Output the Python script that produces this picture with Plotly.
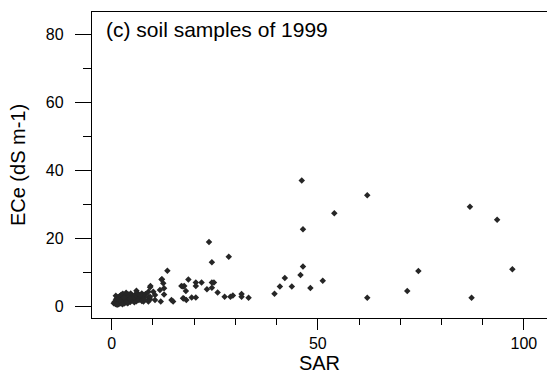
import plotly.graph_objects as go

# SAR values (x) and ECe values (y)
sar = [
    # dense cluster near origin
    0.5, 0.7, 0.9, 1.0, 1.1, 1.2, 1.3, 1.4, 1.5, 1.6, 1.7, 1.8, 1.9, 2.0, 2.1, 2.2,
    2.3, 2.4, 2.5, 2.6, 2.7, 2.8, 2.9, 3.0, 3.1, 3.2, 3.3, 3.4, 3.5, 3.6, 3.8, 3.9,
    4.0, 4.2, 4.3, 4.5, 4.6, 4.8, 5.0, 5.1, 5.3, 5.5, 5.7, 5.9, 6.0, 6.2, 6.4, 6.6,
    6.9, 7.1, 7.3, 7.7, 7.9, 8.2, 8.9, 9.3, 1.0, 1.5, 2.2, 3.0, 3.7, 4.4, 1.3, 2.6,
    # spread points
    9.4, 8.9, 10.1, 10.5, 9.3, 7.7, 8.9, 10.5, 11.9, 14.5, 14.9, 16.9, 17.6, 17.3,
    18.1, 7.3, 7.7, 6.0, 6.9, 7.9, 9.3, 12.1, 13.5, 12.2, 12.5, 12.7, 11.7, 12.7,
    18.6, 17.3, 18.0, 17.5, 19.4, 20.4, 20.4, 20.4, 21.8, 23.1, 24.3, 24.8, 24.3,
    25.7, 27.4, 28.8, 29.4, 31.5, 31.5, 33.2, 23.6, 24.3, 28.4,
    46.1, 54.0, 46.4, 46.4, 45.8, 42.0, 40.8, 43.7, 48.2, 51.2, 39.5,
    62.0, 86.9, 93.5, 74.4, 97.2, 71.7, 62.0, 87.3,
]
ece = [
    0.8, 1.2, 0.6, 1.8, 1.0, 2.2, 0.7, 1.5, 2.6, 1.1, 0.5, 1.9, 2.9, 1.3, 0.8, 2.4,
    3.3, 1.6, 0.9, 2.0, 3.6, 1.2, 2.7, 0.7, 1.8, 3.1, 2.3, 1.0, 3.9, 1.5, 2.6, 0.8,
    3.4, 1.9, 2.8, 1.2, 3.7, 2.2, 1.6, 3.0, 2.5, 1.1, 3.4, 2.0, 1.4, 2.9, 3.6, 1.8,
    2.4, 3.2, 1.5, 2.7, 2.0, 3.5, 2.6, 2.0, 3.0, 2.0, 1.1, 2.5, 1.0, 2.1, 0.4, 0.5,
    5.9, 4.2, 4.2, 3.2, 2.7, 1.3, 1.3, 1.8, 1.3, 1.8, 1.3, 5.9, 5.9, 2.3,
    1.8, 3.7, 3.2, 4.5, 3.2, 1.8, 5.5, 7.8, 10.4, 7.9, 6.7, 5.2, 4.7, 3.4,
    7.8, 5.7, 4.4, 2.2, 2.5, 2.5, 6.9, 5.9, 6.9, 4.9, 6.9, 6.9, 5.4,
    4.0, 2.7, 2.7, 3.1, 3.5, 2.7, 2.4, 18.8, 12.9, 14.5,
    36.9, 27.3, 22.6, 11.6, 9.1, 8.2, 5.7, 5.7, 5.3, 7.4, 3.6,
    32.6, 29.2, 25.4, 10.3, 10.8, 4.4, 2.4, 2.4,
]

x_tickvals = [0, 50, 100]
y_tickvals = [0, 20, 40, 60, 80]

FAM = "Liberation Sans, Arial, sans-serif"

fig = go.Figure()
fig.add_trace(go.Scatter(
    x=sar, y=ece, mode="markers",
    marker=dict(symbol="diamond", size=5, color="#262626", line=dict(width=0)),
    showlegend=False,
))

tick_font = dict(family=FAM, size=16, color="#000")

fig.update_layout(
    width=547, height=380,
    margin=dict(l=92, r=0, t=12, b=62),
    paper_bgcolor="white", plot_bgcolor="white",
    font=tick_font,
    xaxis=dict(
        range=[-4.78, 105.6], tickvals=x_tickvals, ticks="outside", ticklen=11,
        tickwidth=1.3, tickcolor="#000", showline=True, linecolor="#000",
        linewidth=1.3, mirror=True, showgrid=False, zeroline=False,
        minor=dict(dtick=10, tick0=0, ticks="outside", ticklen=6, tickwidth=1.1,
                   tickcolor="#000", showgrid=False),
        tickfont=tick_font,
        title=dict(text="SAR", font=dict(family=FAM, size=20, color="#000"), standoff=2),
    ),
    yaxis=dict(
        range=[-3.53, 86.47], tickvals=y_tickvals, ticks="outside", ticklen=16,
        tickwidth=1.3, tickcolor="#000", showline=True, linecolor="#000",
        linewidth=1.3, mirror=False, showgrid=False, zeroline=False,
        minor=dict(dtick=10, tick0=0, ticks="outside", ticklen=8, tickwidth=1.1,
                   tickcolor="#000", showgrid=False),
        tickfont=tick_font, ticklabelstandoff=8,
        title=dict(text="ECe (dS m-1)", font=dict(family=FAM, size=20, color="#000"), standoff=14),
    ),
    annotations=[dict(
        text="(c) soil samples of 1999", xref="paper", yref="paper",
        x=(104 - 92) / 455, y=1 - (29 - 12) / 306, xanchor="left", yanchor="middle",
        showarrow=False, font=dict(family=FAM, size=21, color="#000"),
    )],
)

fig.write_html("out.html")
